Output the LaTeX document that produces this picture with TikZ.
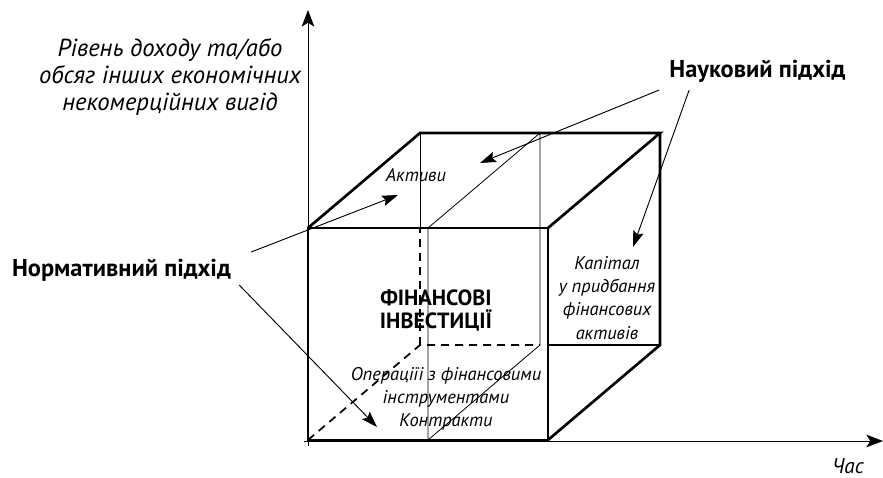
\documentclass[tikz,border=0pt]{standalone}
\usepackage{fontspec}
\setmainfont{PT Sans}
\usetikzlibrary{arrows.meta}

\begin{document}
\begin{tikzpicture}[
        x=0.75pt, y=-0.75pt,
        axis/.style={line width=0.7pt, -{Stealth[length=12.5pt,width=9.5pt,inset=3pt]}},
        edge/.style={line width=2pt, line join=miter},
        hidden/.style={line width=1.3pt, dash pattern=on 6pt off 4.5pt},
        slice/.style={line width=0.6pt},
        arrow/.style={line width=0.7pt, -{Stealth[length=12pt,width=8pt,inset=2pt]}},
        approach/.style={inner sep=0pt, anchor=base, font=\bfseries\fontsize{18.3}{21}\selectfont},
        axislabel/.style={inner sep=0pt, align=center, font=\itshape\fontsize{18.5}{20.6}\selectfont},
        facetext/.style={inner sep=0pt, align=center, font=\itshape\fontsize{13.8}{17.3}\selectfont},
        title/.style={inner sep=0pt, align=center, font=\bfseries\fontsize{16.5}{17.3}\selectfont}
    ]
        \useasboundingbox (0,0) rectangle (883,478);

        % cube corners (front A B C D, back E F G H) and the inner slice
        \coordinate (A) at (308,440);
        \coordinate (B) at (548,440);
        \coordinate (C) at (548,228);
        \coordinate (D) at (308,228);
        \coordinate (E) at (420,345);
        \coordinate (F) at (660,345);
        \coordinate (G) at (660,133);
        \coordinate (H) at (420,133);
        \coordinate (S1) at (428,440);
        \coordinate (S2) at (428,228);
        \coordinate (S3) at (540,133);
        \coordinate (S4) at (540,345);

        % axes
        \coordinate (ytop) at (308,10);
        \coordinate (xend) at (883,441);
        \draw[axis] (308,446) -- (ytop);
        \draw[axis] (304,441) -- (xend);

        % hidden and thin edges
        \draw[hidden] (A) -- (E) -- (S4);
        \draw[hidden] (E) -- (H |- D);
        \draw[slice] (H) -- (H |- D);
        \draw[slice] (S1) -- (S2) -- (S3) -- (S4) -- cycle;
        \draw[line width=1pt] (B |- F) -- (F);

        % visible edges
        \draw[edge] (A) rectangle (C);
        \draw[edge] (D) -- (H) -- (G) -- (C);
        \draw[edge] (G) -- (F) -- (B);

        % texts
        \node[axislabel] (ylabel) at (170,77) {Рівень доходу та/або\\обсяг інших економічних\\некомерційних вигід};
        \node[facetext, anchor=base, font=\itshape\fontsize{16}{18}\selectfont] (xlabel) at (848,473) {Час};
        \node[approach] (nauk) at (757.5,78) {Науковий підхід};
        \node[approach] (norm) at (121.5,276) {Нормативний підхід};
        \node[facetext, anchor=base] (assets) at (416,181) {Активи};
        \node[title] (fininv) at (436,310) {ФІНАНСОВІ\\ІНВЕСТИЦІЇ};
        \node[facetext] (ops) at (446,399) {Операціїі з фінансовими\\інструментами\\Контракти};
        \node[facetext] (capital) at (607,298) {Капітал\\у придбання\\фінансових\\активів};

        % approach arrows
        \coordinate (toassets) at (398,195);
        \coordinate (toops) at (377,427);
        \coordinate (totop) at (480,163);
        \coordinate (tocapital) at (633,247);
        \draw[arrow] ([shift={(20,-24)}]norm.base east) -- (toassets);
        \draw[arrow] ([shift={(8,9)}]norm.base east) -- (toops);
        \draw[arrow] ([shift={(-10,12)}]nauk.base west) -- (totop);
        \draw[arrow] ([shift={(20,12)}]nauk.base west) -- (tocapital);
    \end{tikzpicture}
\end{document}
